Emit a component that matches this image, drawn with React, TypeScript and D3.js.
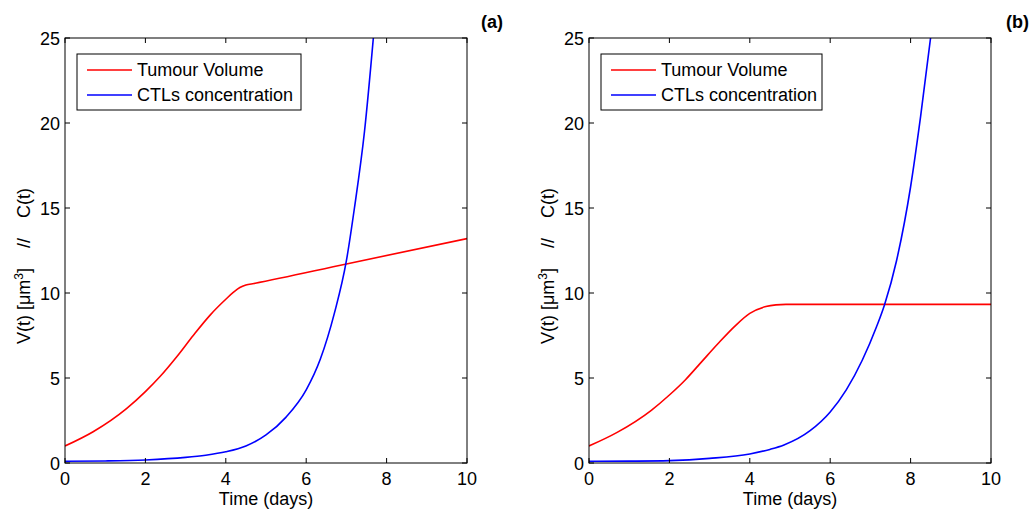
import React from "react";
import * as d3 from "d3";

// Panel (a)
const tA_V = [0, 0.7, 1.53, 2, 2.37, 2.78, 3.19, 3.61, 4, 4.2, 4.35, 4.5, 4.7, 7, 10];
const vA = [1.0, 1.84, 3.2, 4.2, 5.1, 6.25, 7.5, 8.7, 9.63, 10.06, 10.32, 10.47, 10.56, 11.71, 13.2];
const tA_C = [0, 1, 2, 3, 3.5, 4, 4.5, 5, 5.5, 6, 6.35, 6.7, 7, 7.2, 7.45, 7.7];
const cA = [0.1, 0.12, 0.18, 0.33, 0.46, 0.66, 1.0, 1.65, 2.7, 4.3, 6.1, 8.8, 11.9, 15.0, 19.5, 25.8];

// Panel (b)
const tB_V = [0, 0.7, 1.55, 2, 2.4, 2.8, 3.2, 3.65, 4, 4.4, 4.65, 4.9, 10];
const vB = [1.0, 1.8, 3.1, 4.0, 4.9, 5.95, 7.0, 8.1, 8.8, 9.2, 9.3, 9.33, 9.33];
const tB_C = [0, 1, 2, 3, 4, 4.5, 4.85, 5.5, 6, 6.4, 6.8, 7.15, 7.35, 7.65, 8, 8.25, 8.55];
const cB = [0.1, 0.11, 0.14, 0.27, 0.53, 0.8, 1.06, 1.9, 3.0, 4.3, 6.06, 8.0, 9.3, 11.9, 16.25, 20.4, 26.0];

const xTicks = [0, 2, 4, 6, 8, 10];
const yTicks = [0, 5, 10, 15, 20, 25];
const legendLabels = ["Tumour Volume", "CTLs concentration"];
const seriesColors = ["#ff0000", "#0000ff"];

const FONT = "'Liberation Sans', Arial, Helvetica, sans-serif";
const FS = 18;

type PanelProps = {
  left: number;
  tag: string;
  tagX: number;
  tV: number[];
  v: number[];
  tC: number[];
  c: number[];
  legendW: number;
};

function Panel({ left, tag, tagX, tV, v, tC, c, legendW }: PanelProps) {
  const right = left + 402;
  const top = 38;
  const bottom = 463;
  const x = d3.scaleLinear().domain([0, 10]).range([left, right]);
  const y = d3.scaleLinear().domain([0, 25]).range([bottom, top]);
  const line = d3
    .line<[number, number]>()
    .x((d) => x(d[0]))
    .y((d) => y(d[1]))
    .curve(d3.curveMonotoneX);
  const vPts = tV.map((t, i) => [t, v[i]] as [number, number]);
  const cPts = tC.map((t, i) => [t, c[i]] as [number, number]);
  const clipId = "clip-" + tag.replace(/[()]/g, "");
  const tl = 5;
  const lx = left + 12;
  const ly = 54;
  return (
    <g>
      <defs>
        <clipPath id={clipId}>
          <rect x={left} y={top} width={right - left} height={bottom - top} />
        </clipPath>
      </defs>
      <g clipPath={`url(#${clipId})`}>
        <path d={line(vPts) || ""} fill="none" stroke={seriesColors[0]} strokeWidth={1.6} />
        <path d={line(cPts) || ""} fill="none" stroke={seriesColors[1]} strokeWidth={1.6} />
      </g>
      {xTicks.map((t) => (
        <g key={"xt" + t}>
          <line x1={x(t)} x2={x(t)} y1={bottom} y2={bottom - tl} stroke="#000" />
          <line x1={x(t)} x2={x(t)} y1={top} y2={top + tl} stroke="#000" />
          <text x={x(t)} y={bottom + 22} textAnchor="middle" fontSize={FS} fontFamily={FONT}>
            {t}
          </text>
        </g>
      ))}
      {yTicks.map((t) => (
        <g key={"yt" + t}>
          <line x1={left} x2={left + tl} y1={y(t)} y2={y(t)} stroke="#000" />
          <line x1={right} x2={right - tl} y1={y(t)} y2={y(t)} stroke="#000" />
          <text x={left - 5} y={y(t) + 7} textAnchor="end" fontSize={FS} fontFamily={FONT}>
            {t}
          </text>
        </g>
      ))}
      <rect x={left} y={top} width={right - left} height={bottom - top} fill="none" stroke="#000" strokeWidth={1} />
      <text x={(left + right) / 2} y={505} textAnchor="middle" fontSize={FS} fontFamily={FONT}>
        Time (days)
      </text>
      <text
        transform={`translate(${left - 35},266) rotate(-90)`}
        textAnchor="middle"
        fontSize={FS}
        fontFamily={FONT}
        xmlSpace="preserve"
      >
        <tspan>{"V(t) [μm"}</tspan>
        <tspan fontSize={12} dy={-7}>3</tspan>
        <tspan dy={7}>{"]    //    C(t)"}</tspan>
      </text>
      <rect x={lx} y={ly} width={legendW} height={56} fill="#fff" stroke="#000" strokeWidth={1} />
      {legendLabels.map((lab, i) => (
        <g key={lab}>
          <line x1={lx + 10} x2={lx + 55} y1={ly + 16 + i * 25} y2={ly + 16 + i * 25} stroke={seriesColors[i]} strokeWidth={1.6} />
          <text x={lx + 60} y={ly + 22 + i * 25} fontSize={FS} fontFamily={FONT}>
            {lab}
          </text>
        </g>
      ))}
      <text x={tagX} y={28} fontSize={FS} fontWeight="bold" fontFamily={FONT}>
        {tag}
      </text>
    </g>
  );
}

export default function App() {
  return (
    <svg width={1035} height={515} style={{ position: "absolute", left: 0, top: 0, background: "#fff" }}>
      <rect width={1035} height={515} fill="#fff" />
      <Panel left={65} tag="(a)" tagX={481} tV={tA_V} v={vA} tC={tA_C} c={cA} legendW={224} />
      <Panel left={589} tag="(b)" tagX={1006} tV={tB_V} v={vB} tC={tB_C} c={cB} legendW={221} />
    </svg>
  );
}
